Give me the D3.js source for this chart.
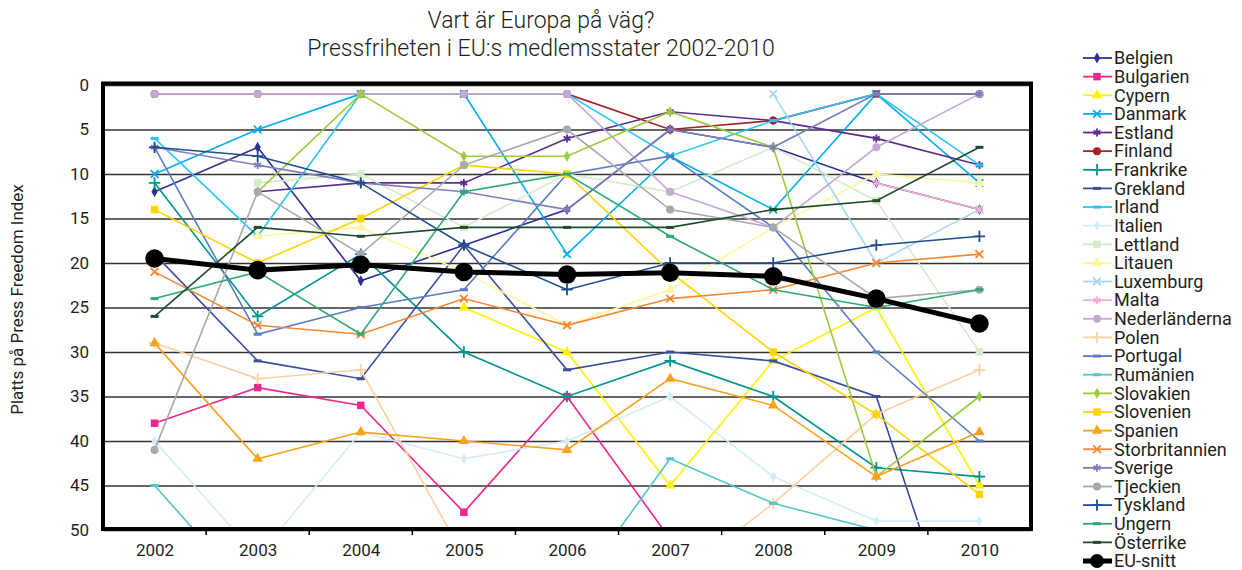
<!DOCTYPE html>
<html>
<head>
<meta charset="utf-8">
<script src="https://cdn.jsdelivr.net/npm/d3@7"></script>
<style>
  body { margin: 0; background: #fff; }
  text { font-family: Roboto, "DejaVu Sans", sans-serif; fill: #231f20; }
</style>
</head>
<body>
<div id="chart"></div>
<script>
// Years on the x axis
const years = [2002, 2003, 2004, 2005, 2006, 2007, 2008, 2009, 2010];
const yTicks = [0, 5, 10, 15, 20, 25, 30, 35, 40, 45, 50];

// Ranks per country (null = not in the index that year)
const belgien        = [12, 7, 22, 18, 14, 5, 7, 11, 14];
const bulgarien      = [38, 34, 36, 48, 35, 51, 59, 68, 70];
const cypern         = [null, null, null, 25, 30, 45, 31, 25, 45];
const danmark        = [10, 5, 1, 1, 19, 8, 14, 1, 11];
const estland        = [null, 12, 11, 11, 6, 3, 4, 6, 9];
const finland        = [1, 1, 1, 1, 1, 5, 4, 1, 1];
const frankrike      = [11, 26, 19, 30, 35, 31, 35, 43, 44];
const grekland       = [19, 31, 33, 18, 32, 30, 31, 35, 70];
const irland         = [6, 17, 1, 1, 1, 8, 4, 1, 9];
const italien        = [40, 53, 39, 42, 40, 35, 44, 49, 49];
const lettland       = [null, 11, 10, 16, 10, 12, 7, 13, 30];
const litauen        = [null, 17, 16, 21, 27, 23, 16, 10, 11];
const luxemburg      = [null, null, null, null, null, null, 1, 20, 14];
const malta          = [null, null, null, null, null, null, null, 11, 14];
const nederlanderna  = [1, 1, 1, 1, 1, 12, 16, 7, 1];
const polen          = [29, 33, 32, 53, 58, 56, 47, 37, 32];
const portugal       = [7, 28, 25, 23, 10, 8, 16, 30, 40];
const rumanien       = [45, 58, 70, 70, 58, 42, 47, 50, 52];
const slovakien      = [null, 12, 1, 8, 8, 3, 7, 44, 35];
const slovenien      = [14, 20, 15, 9, 10, 21, 30, 37, 46];
const spanien        = [29, 42, 39, 40, 41, 33, 36, 44, 39];
const storbritannien = [21, 27, 28, 24, 27, 24, 23, 20, 19];
const sverige        = [7, 9, 11, 12, 14, 5, 7, 1, 1];
const tjeckien       = [41, 12, 19, 9, 5, 14, 16, 24, 23];
const tyskland       = [7, 8, 11, 18, 23, 20, 20, 18, 17];
const ungern         = [24, 21, 28, 12, 10, 17, 23, 25, 23];
const osterrike      = [26, 16, 17, 16, 16, 16, 14, 13, 7];
const euSnitt        = [19.5, 20.8, 20.2, 21, 21.3, 21.1, 21.5, 24, 26.8];

const names = ["Belgien", "Bulgarien", "Cypern", "Danmark", "Estland", "Finland", "Frankrike",
  "Grekland", "Irland", "Italien", "Lettland", "Litauen", "Luxemburg", "Malta", "Nederländerna",
  "Polen", "Portugal", "Rumänien", "Slovakien", "Slovenien", "Spanien", "Storbritannien",
  "Sverige", "Tjeckien", "Tyskland", "Ungern", "Österrike", "EU-snitt"];
const values = [belgien, bulgarien, cypern, danmark, estland, finland, frankrike, grekland,
  irland, italien, lettland, litauen, luxemburg, malta, nederlanderna, polen, portugal,
  rumanien, slovakien, slovenien, spanien, storbritannien, sverige, tjeckien, tyskland,
  ungern, osterrike, euSnitt];

// styling kept apart from the data
const colors = ["#2e3192", "#ec268f", "#fff200", "#00aeef", "#5c2d91", "#a3212b", "#00928f",
  "#3a4da0", "#29c5f6", "#d3eef9", "#d5ebcc", "#fff6a0", "#a6d6f3", "#f5aecf", "#c4a9d6",
  "#fcd0a5", "#5a7cc2", "#54c5c9", "#9ccb3b", "#ffd400", "#f7a21b", "#f58634", "#7e7fb8",
  "#a7a9ac", "#1f4e8c", "#2daa73", "#1e4d2b", "#000000"];
const shapes = ["diamond", "square", "triangle", "times", "asterisk", "circle", "plus",
  "dash", "dash", "diamond", "square", "triangle", "times", "asterisk", "circle", "plus",
  "dash", "dash", "diamond", "square", "triangle", "times", "asterisk", "circle", "plus",
  "dash", "dash", "big"];

const W = 1242, H = 570;
const plot = { left: 103, right: 1031, top: 85, bottom: 530 };

const svg = d3.select("#chart").append("svg")
  .attr("width", W).attr("height", H);

const x = d3.scalePoint().domain(years).range([plot.left, plot.right]).padding(0.5);
const y = d3.scaleLinear().domain([0, 50]).range([plot.top, plot.bottom]);

// Title
svg.append("text").attr("x", 541).attr("y", 28).attr("text-anchor", "middle")
  .style("font-size", "23px").style("font-weight", 300).text("Vart är Europa på väg?");
svg.append("text").attr("x", 541).attr("y", 56).attr("text-anchor", "middle")
  .style("font-size", "23px").style("font-weight", 300).text("Pressfriheten i EU:s medlemsstater 2002-2010");

// Y label
svg.append("text")
  .attr("transform", `translate(23,${(plot.top + plot.bottom) / 2 - 8}) rotate(-90)`)
  .attr("text-anchor", "middle")
  .style("font-size", "17px")
  .text("Platts på Press Freedom Index");

// Grid + y axis
const yAxis = svg.append("g")
  .attr("transform", `translate(${plot.left},0)`)
  .call(d3.axisLeft(y).tickValues(yTicks).tickSize(-(plot.right - plot.left)).tickPadding(14));
yAxis.select(".domain").remove();
yAxis.selectAll(".tick line").attr("stroke", "#333").attr("stroke-width", 1.6);
yAxis.selectAll(".tick text").style("font-size", "17px").attr("fill", "#231f20");

// X axis
const xAxis = svg.append("g")
  .attr("transform", `translate(0,${plot.bottom})`)
  .call(d3.axisBottom(x).tickSize(0).tickPadding(14));
xAxis.select(".domain").remove();
xAxis.selectAll(".tick text").style("font-size", "17px").attr("fill", "#231f20");
const step = x.step();
svg.append("g").selectAll("line")
  .data(years.slice(1))
  .join("line")
  .attr("x1", d => x(d) - step / 2).attr("x2", d => x(d) - step / 2)
  .attr("y1", plot.bottom).attr("y2", plot.bottom + 5)
  .attr("stroke", "#000").attr("stroke-width", 1.5);

// clip for the plot area
svg.append("clipPath").attr("id", "clip")
  .append("rect")
  .attr("x", plot.left).attr("y", plot.top - 2)
  .attr("width", plot.right - plot.left).attr("height", plot.bottom - plot.top + 2);

function symbolPath(shape) {
  switch (shape) {
    case "diamond": return d3.symbol(d3.symbolDiamond, 34)();
    case "square": return d3.symbol(d3.symbolSquare, 56)();
    case "triangle": return d3.symbol(d3.symbolTriangle, 48)();
    case "circle": return d3.symbol(d3.symbolCircle, 50)();
    case "times": return d3.symbol(d3.symbolTimes, 40)();
    case "asterisk": return d3.symbol(d3.symbolAsterisk, 44)();
    case "plus": return d3.symbol(d3.symbolPlus, 44)();
    case "dash": return "M-4,-1.5h8v3h-8z";
    case "big": return d3.symbol(d3.symbolCircle, 270)();
  }
}
const strokeShapes = ["times", "asterisk", "plus"];

const line = d3.line()
  .defined(d => d.v !== null)
  .x(d => x(d.year))
  .y(d => y(d.v));

const plotG = svg.append("g").attr("clip-path", "url(#clip)");

names.forEach((name, i) => {
  const pts = years.map((yr, j) => ({ year: yr, v: values[i][j] }));
  const g = plotG.append("g");
  const isEU = shapes[i] === "big";
  g.append("path")
    .datum(pts)
    .attr("fill", "none")
    .attr("stroke", colors[i])
    .attr("stroke-width", isEU ? 5 : 1.6)
    .attr("d", line);
  const isStroke = strokeShapes.includes(shapes[i]);
  g.selectAll("path.marker")
    .data(pts.filter(d => d.v !== null))
    .join("path")
    .attr("class", "marker")
    .attr("transform", d => `translate(${x(d.year)},${y(d.v)})`)
    .attr("d", symbolPath(shapes[i]))
    .attr("fill", isStroke ? "none" : colors[i])
    .attr("stroke", isStroke ? colors[i] : "none")
    .attr("stroke-width", isStroke ? 1.8 : 0);
});

// Border
svg.append("rect")
  .attr("x", plot.left).attr("y", plot.top - 1.5)
  .attr("width", plot.right - plot.left).attr("height", plot.bottom - plot.top + 0.5)
  .attr("fill", "none").attr("stroke", "#000").attr("stroke-width", 4);

// Legend
const legend = svg.append("g");
const legY = d3.scalePoint().domain(names).range([58, 561]);
names.forEach((name, i) => {
  const ly = legY(name);
  const isEU = shapes[i] === "big";
  legend.append("line")
    .attr("x1", 1083).attr("x2", 1112).attr("y1", ly).attr("y2", ly)
    .attr("stroke", colors[i]).attr("stroke-width", isEU ? 5 : 1.8);
  const isStroke = strokeShapes.includes(shapes[i]);
  legend.append("path")
    .attr("transform", `translate(1097,${ly})`)
    .attr("d", isEU ? d3.symbol(d3.symbolCircle, 150)() : symbolPath(shapes[i]))
    .attr("fill", isStroke ? "none" : colors[i])
    .attr("stroke", isStroke ? colors[i] : "none")
    .attr("stroke-width", isStroke ? 1.8 : 0);
  legend.append("text")
    .attr("x", 1114).attr("y", ly).attr("dy", "0.35em")
    .style("font-size", "18px")
    .text(name);
});
</script>
</body>
</html>
